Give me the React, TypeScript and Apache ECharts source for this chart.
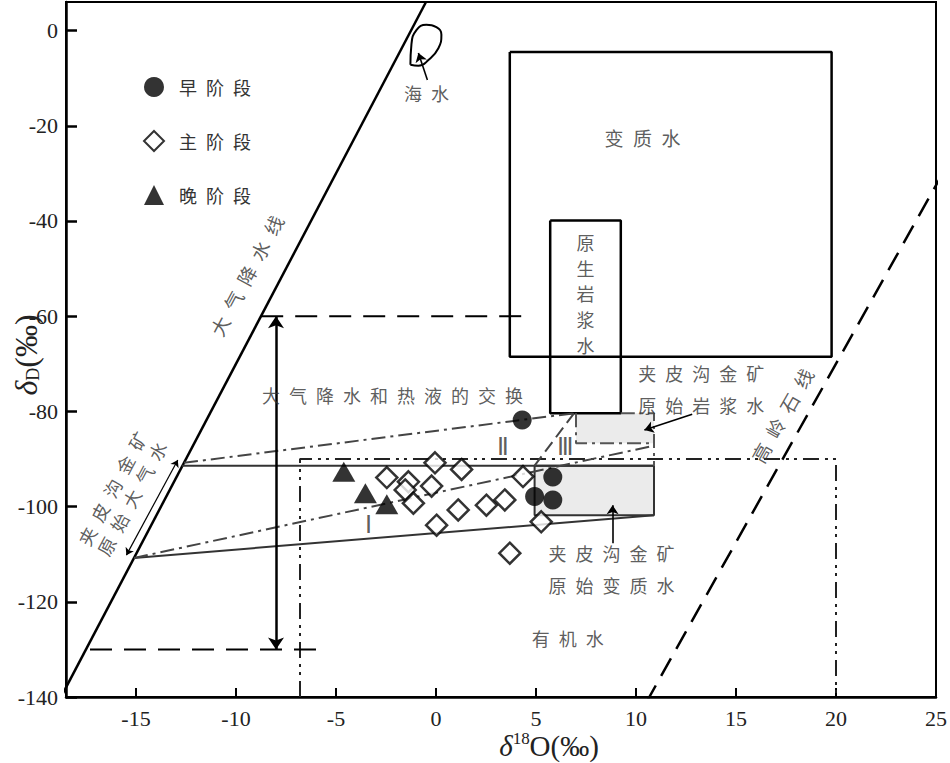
import React, { useEffect, useRef } from 'react';
import * as echarts from 'echarts';

// ---- axis ticks ----
const xTicks = [-15, -10, -5, 0, 5, 10, 15, 20, 25];
const yTicks = [-140, -120, -100, -80, -60, -40, -20, 0];

// ---- samples (δ18O, δD) ----
const earlyStage = [[4.31, -81.8], [5.84, -93.8], [4.93, -97.9], [5.84, -98.6]];
const mainStage = [
  [-2.46, -93.9], [-1.38, -94.8], [-1.54, -96.5], [-0.05, -90.8], [-0.22, -95.7],
  [1.28, -92.2], [-1.13, -99.3], [1.11, -100.7], [0.03, -103.9], [2.52, -99.7],
  [3.44, -98.6], [4.35, -93.7], [5.26, -103.2], [3.69, -109.8],
];
const lateStage = [[-4.61, -92.7], [-3.53, -97.2], [-2.46, -99.5]];

// ---- reference lines & fields ----
const meteoricWaterLine = [[-18.75, -140], [-0.5, 6]];
const kaoliniteLine = [[10.5, -141.25], [25.2, -31]];
const seawaterOutline = [
  [-1.28, -7.2], [-1.23, -3.0], [-0.98, 0.1], [-0.48, 1.2], [0.02, 0.7],
  [0.27, -0.9], [0.12, -3.7], [-0.38, -6.2], [-0.88, -7.4], [-1.28, -7.2],
];
const metamorphicBox = [[3.69, -4.5], [19.78, -4.5], [19.78, -68.5], [3.69, -68.5], [3.69, -4.5]];
const magmaticBox = [[5.71, -39.9], [9.24, -39.9], [9.24, -80.4], [5.71, -80.4], [5.71, -39.9]];
const organicWater = [[-6.8, -140], [-6.8, -90], [20, -90], [20, -140]];
const exchangeArrow = [[-8, -60], [-8, -130]];
const exchangeTop = [[-8.74, -60], [4.7, -60]];
const exchangeBottom = [[-17.3, -130], [-5.6, -130]];
const quadUpper = [[-12.7, -91.4], [10.9, -91.4]];
const quadLower = [[-15.1, -110.8], [10.9, -101.8]];
const mixLineA = [[-12.6, -90.8], [6.9, -80.4]];
const mixLineB = [[-15.1, -110.8], [10.9, -87.2]];
const mixLineC = [[6.9, -80.4], [4.93, -91.4]];
const primaryMetaBox = [[4.93, -91.4], [10.9, -101.8]];
const primaryMetaOutline = [[4.93, -91.4], [10.9, -91.4], [10.9, -101.8], [4.93, -101.8], [4.93, -91.4]];
const primaryMagmaBox = [[7.0, -80.4], [10.9, -86.7]];
const primaryMagmaOutline = [[9.24, -80.4], [10.9, -80.4], [10.9, -91.4]];
const primaryMagmaLeftBottom = [[7.0, -80.4], [7.0, -86.7], [10.9, -86.7]];
const meteoricBracket = [[-12.91, -90.2], [-15.48, -110.2]];
const seawaterPointer = [[-0.43, -10.4], [-0.88, -4.7]];
const magmaPointer = [[12.81, -80.6], [10.42, -83.9]];
const metaPointer = [[8.83, -107.7], [8.83, -99.7]];

const magmaticChars = ['原', '生', '岩', '浆', '水'];
const magmaticCharY = [-44.4, -49.9, -55.2, -60.5, -66.0];

const SERIF = 'Liberation Serif, Times New Roman, serif';
const CJK = 'Noto Sans CJK SC, sans-serif';
const SP = '\u2002';
const spaced = (s: string) => s.split('').join(SP);

const lineSeries = (data: number[][], style: any, z = 3) => ({
  type: 'line',
  data,
  showSymbol: false,
  symbol: 'none',
  silent: true,
  z,
  lineStyle: { color: '#000', width: 2, ...style },
});

const DASH_DOT = [14, 5, 3, 5];
const DASH_DOT_DOT = [16, 6, 3, 5, 3, 6];

export default function App() {
  const ref = useRef<HTMLDivElement>(null);
  useEffect(() => {
    if (!ref.current) return;
    const chart = echarts.init(ref.current, undefined, { renderer: 'svg' });

    const textLabel = (value: number[], text: string, extra: any = {}) => ({
      value,
      label: {
        show: true,
        position: 'inside',
        formatter: text,
        fontFamily: CJK,
        fontSize: 18,
        color: '#333',
        align: 'center',
        verticalAlign: 'middle',
        ...extra,
      },
    });

    const option: any = {
      animation: false,
      backgroundColor: '#fff',
      grid: {
        left: 66, right: 10, top: 2, bottom: 66,
        show: true, borderColor: '#000', borderWidth: 2, containLabel: false,
      },
      xAxis: {
        type: 'value', min: -18.5, max: 25,
        splitLine: { show: false },
        axisLine: { onZero: false, lineStyle: { color: '#000', width: 2.5 } },
        axisTick: { inside: true, length: 9, lineStyle: { color: '#000', width: 2 }, customValues: xTicks },
        axisLabel: { customValues: xTicks, margin: 10, fontFamily: SERIF, fontSize: 22, lineHeight: 22, color: '#222' },
      },
      yAxis: {
        type: 'value', min: -140, max: 6,
        splitLine: { show: false },
        axisLine: { onZero: false, lineStyle: { color: '#000', width: 2.5 } },
        axisTick: { inside: true, length: 11, lineStyle: { color: '#000', width: 2.5 }, customValues: yTicks },
        axisLabel: { customValues: yTicks, margin: 8, fontFamily: SERIF, fontSize: 22, color: '#222' },
      },
      legend: {
        orient: 'vertical', left: 138, top: 72,
        itemWidth: 20, itemHeight: 20, itemGap: 33,
        data: ['早阶段', '主阶段', '晚阶段'],
        formatter: (n: string) => spaced(n),
        textStyle: { fontFamily: CJK, fontSize: 18, color: '#333', padding: [0, 0, 0, 10] },
      },
      graphic: [
        {
          type: 'text', x: 549, y: 745,
          style: {
            text: '{d|δ}{s|18}{o|O(‰)}',
            align: 'center', verticalAlign: 'middle',
            rich: {
              d: { fontFamily: SERIF, fontStyle: 'italic', fontSize: 29, lineHeight: 30, fill: '#222', verticalAlign: 'bottom' },
              s: { fontFamily: SERIF, fontSize: 17, lineHeight: 30, fill: '#222', verticalAlign: 'top' },
              o: { fontFamily: SERIF, fontSize: 29, lineHeight: 30, fill: '#222', verticalAlign: 'bottom' },
            },
          },
        },
        {
          type: 'text', x: 26, y: 355, rotation: Math.PI / 2,
          style: {
            text: '{d|δ}{s|D}{o|(‰)}',
            align: 'center', verticalAlign: 'middle',
            rich: {
              d: { fontFamily: SERIF, fontStyle: 'italic', fontSize: 32, fill: '#222', verticalAlign: 'top' },
              s: { fontFamily: SERIF, fontSize: 18, fill: '#222', verticalAlign: 'bottom' },
              o: { fontFamily: SERIF, fontSize: 32, fill: '#222', verticalAlign: 'top' },
            },
          },
        },
      ],
      series: [
        // gray fields
        {
          type: 'line', data: [], silent: true, z: 1,
          markArea: {
            silent: true,
            itemStyle: { color: '#ebebeb' },
            data: [
              [{ coord: primaryMetaBox[0] }, { coord: primaryMetaBox[1] }],
              [{ coord: primaryMagmaBox[0] }, { coord: primaryMagmaBox[1] }],
            ],
          },
        },
        lineSeries(meteoricWaterLine, { width: 2.5 }),
        lineSeries(kaoliniteLine, { width: 2.5, type: [20, 11] }),
        { ...lineSeries(seawaterOutline, { width: 2 }), smooth: 0.5 },
        lineSeries(metamorphicBox, { width: 2.5 }),
        lineSeries(magmaticBox, { width: 2.5 }),
        lineSeries(organicWater, { width: 2, color: '#222', type: DASH_DOT_DOT }),
        lineSeries(exchangeTop, { width: 2, type: [22, 12] }),
        lineSeries(exchangeBottom, { width: 2, type: [22, 12] }),
        lineSeries(quadUpper, { width: 2, color: '#333' }),
        lineSeries(quadLower, { width: 2, color: '#333' }),
        lineSeries(primaryMetaOutline, { width: 2, color: '#333' }),
        lineSeries(mixLineA, { width: 2, color: '#444', type: DASH_DOT }),
        lineSeries(mixLineB, { width: 2, color: '#444', type: DASH_DOT }),
        lineSeries(mixLineC, { width: 2, color: '#444', type: [12, 6] }),
        lineSeries(primaryMagmaOutline, { width: 2, color: '#555', type: DASH_DOT }),
        lineSeries(primaryMagmaLeftBottom, { width: 2, color: '#555', type: DASH_DOT }),
        {
          type: 'lines', coordinateSystem: 'cartesian2d', silent: true, z: 4,
          symbol: ['arrow', 'arrow'], symbolSize: 12,
          lineStyle: { color: '#000', width: 2.5, opacity: 1 },
          data: [{ coords: exchangeArrow }],
        },
        {
          type: 'lines', coordinateSystem: 'cartesian2d', silent: true, z: 4,
          symbol: ['arrow', 'arrow'], symbolSize: 7,
          lineStyle: { color: '#000', width: 1.2, opacity: 1 },
          data: [{ coords: meteoricBracket }],
        },
        {
          type: 'lines', coordinateSystem: 'cartesian2d', silent: true, z: 4,
          symbol: ['none', 'arrow'], symbolSize: 9,
          lineStyle: { color: '#000', width: 1.6, opacity: 1 },
          data: [{ coords: seawaterPointer }, { coords: magmaPointer }, { coords: metaPointer }],
        },
        // samples
        {
          name: '早阶段', type: 'scatter', data: earlyStage, symbol: 'circle', symbolSize: 19, z: 6,
          itemStyle: { color: '#000' },
        },
        {
          name: '主阶段', type: 'scatter', data: mainStage, symbol: 'diamond', symbolSize: 21, z: 6,
          itemStyle: { color: '#fff', borderColor: '#000', borderWidth: 2.5 },
        },
        {
          name: '晚阶段', type: 'scatter', data: lateStage, symbol: 'triangle', symbolSize: [23, 20], z: 6,
          itemStyle: { color: '#000' },
        },
        // annotations
        {
          type: 'scatter', symbolSize: 0, silent: true, z: 7,
          data: [
            textLabel([-0.48, -13.1], spaced('海水')),
            textLabel([10.32, -22.4], spaced('变质水'), { fontSize: 19 }),
            ...magmaticChars.map((c, i) => textLabel([7.48, magmaticCharY[i]], c, { fontSize: 18, lineHeight: 20 })),
            textLabel([-9.49, -51.4], spaced('大气降水线'), { rotate: 62, fontSize: 19 }),
            textLabel([17.29, -80.8], spaced('高岭石线'), { rotate: 60.5, fontSize: 19 }),
            textLabel([-2.17, -76.6], spaced('大气降水和热液的交换')),
            textLabel([-15.71, -97.2], spaced('夹皮沟金矿') + '\n' + spaced('原始大气水'), { rotate: 62, lineHeight: 22 }),
            textLabel([13.26, -75.3], spaced('夹皮沟金矿') + '\n' + spaced('原始岩浆水'), { lineHeight: 32 }),
            textLabel([8.78, -113.1], spaced('夹皮沟金矿') + '\n' + spaced('原始变质水'), { lineHeight: 32 }),
            textLabel([6.59, -127.6], spaced('有机水')),
            textLabel([-3.37, -103.9], 'Ⅰ', { fontFamily: SERIF, fontSize: 24 }),
            textLabel([3.35, -87.5], 'Ⅱ', { fontFamily: SERIF, fontSize: 24 }),
            textLabel([6.49, -87.5], 'Ⅲ', { fontFamily: SERIF, fontSize: 24 }),
          ],
        },
      ],
    };
    chart.setOption(option);
    return () => chart.dispose();
  }, []);
  return <div ref={ref} style={{ position: 'fixed', left: 0, top: 0, width: 950, height: 763, background: '#fff' }} />;
}
